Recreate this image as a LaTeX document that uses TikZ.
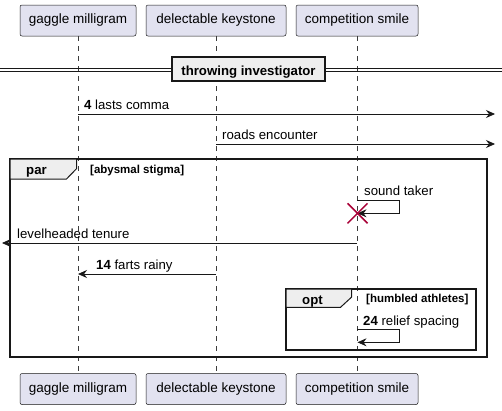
\documentclass[tikz,border=0pt]{standalone}
\usepackage{fontspec}
\setmainfont{Liberation Sans}
\usetikzlibrary{arrows.meta}
\definecolor{pfill}{HTML}{E2E2F0}
\definecolor{bord}{HTML}{181818}
\definecolor{xred}{HTML}{A80036}
\definecolor{tabfill}{HTML}{EEEEEE}
\begin{document}
\begin{tikzpicture}[x=1pt,y=-1pt,
  part/.style={draw=bord, fill=pfill, rounded corners=2pt, minimum height=31pt, inner sep=0pt, line width=0.5pt, font=\fontsize{13.5}{15}\selectfont},
  msg/.style={draw=bord, line width=0.8pt, -{Stealth[length=9pt,width=8pt,inset=3pt]}},
  lbl/.style={font=\fontsize{13.2}{15}\selectfont, inner sep=0pt, anchor=base west},
  blbl/.style={font=\fontsize{11.5}{13}\selectfont\bfseries, inner sep=0pt, anchor=base west},
  life/.style={draw=bord!85, dash pattern=on 5pt off 5pt, line width=0.5pt},
  frame/.style={draw=bord, line width=1.5pt}]
\useasboundingbox (0,0) rectangle (502,410);
% participants
\node[part, minimum width=116pt] (gt) at (78,20.5) {gaggle milligram};
\node[part, minimum width=140pt] (dt) at (216,20.5) {delectable keystone};
\node[part, minimum width=122pt] (ct) at (357,20.5) {competition smile};
\node[part, minimum width=116pt] (gb) at (78,389) {gaggle milligram};
\node[part, minimum width=140pt] (db) at (216,389) {delectable keystone};
\node[part, minimum width=122pt] (cb) at (357,389) {competition smile};
% lifelines
\draw[life] (gt.south) -- (gb.north);
\draw[life] (dt.south) -- (db.north);
\draw[life] (ct.south) -- (cb.north);
% divider
\draw[bord, line width=0.8pt] (0,68.7) -- (172,68.7) (0,71.7) -- (172,71.7);
\draw[bord, line width=0.8pt] (325,68.7) -- (502,68.7) (325,71.7) -- (502,71.7);
\node[draw=bord, fill=tabfill, line width=1.5pt, minimum width=153pt, minimum height=24pt, inner sep=0pt] (div) at (248.5,69) {};
\node[font=\fontsize{13.2}{15}\selectfont\bfseries, inner sep=0pt, anchor=base] (divt) at (248.5,75) {throwing investigator};
% message 1
\coordinate (m1s) at (78,114);
\coordinate (m1e) at (495,114);
\draw[msg] (m1s) -- (m1e);
\node[lbl] (m1l) at (84,109.5) {\textbf{4} lasts comma};
% message 2
\coordinate (m2s) at (216,144);
\coordinate (m2e) at (495,144);
\draw[msg] (m2s) -- (m2e);
\node[lbl] (m2l) at (222,139.5) {roads encounter};
% par frame
\draw[frame] (10,159) rectangle (487,357);
\draw[bord, line width=1pt, fill=tabfill] (10,159) -- (76.7,159) -- (76.7,168.5) -- (66.5,179) -- (10,179) -- cycle;
\node[font=\fontsize{13.2}{15}\selectfont\bfseries, inner sep=0pt, anchor=base west] (parl) at (26,174) {par};
\node[blbl] (parc) at (90,173) {[abysmal stigma]};
% self message sound taker
\coordinate (s1a) at (357,200.5);
\coordinate (s1b) at (399.5,200.5);
\coordinate (s1c) at (399.5,213.3);
\coordinate (s1d) at (357.5,213.3);
\draw[msg] (s1a) -- (s1b) -- (s1c) -- (s1d);
\node[lbl] (s1l) at (364,195.7) {sound taker};
\draw[xred, line width=1.5pt] (347.5,203.3) -- (367.5,223.3) (347.5,223.3) -- (367.5,203.3);
% levelheaded tenure
\coordinate (m3s) at (357,243);
\coordinate (m3e) at (2,243);
\draw[msg] (m3s) -- (m3e);
\node[lbl] (m3l) at (17,238) {levelheaded tenure};
% farts rainy
\coordinate (m4s) at (216,274);
\coordinate (m4e) at (78,274);
\draw[msg] (m4s) -- (m4e);
\node[lbl] (m4l) at (96,269) {\textbf{14} farts rainy};
% opt frame
\draw[frame] (286,289) rectangle (476,350);
\draw[bord, line width=1pt, fill=tabfill] (286,289) -- (351.7,289) -- (351.7,297) -- (340.5,307.3) -- (286,307.3) -- cycle;
\node[font=\fontsize{13.2}{15}\selectfont\bfseries, inner sep=0pt, anchor=base west] (optl) at (302,304) {opt};
\node[blbl] (optc) at (366,302) {[humbled athletes]};
% self message relief spacing
\coordinate (s2a) at (357,329.3);
\coordinate (s2b) at (399.5,329.3);
\coordinate (s2c) at (399.5,342.3);
\coordinate (s2d) at (357.5,342.3);
\draw[msg] (s2a) -- (s2b) -- (s2c) -- (s2d);
\node[lbl] (s2l) at (363,325) {\textbf{24} relief spacing};
\end{tikzpicture}
\end{document}
